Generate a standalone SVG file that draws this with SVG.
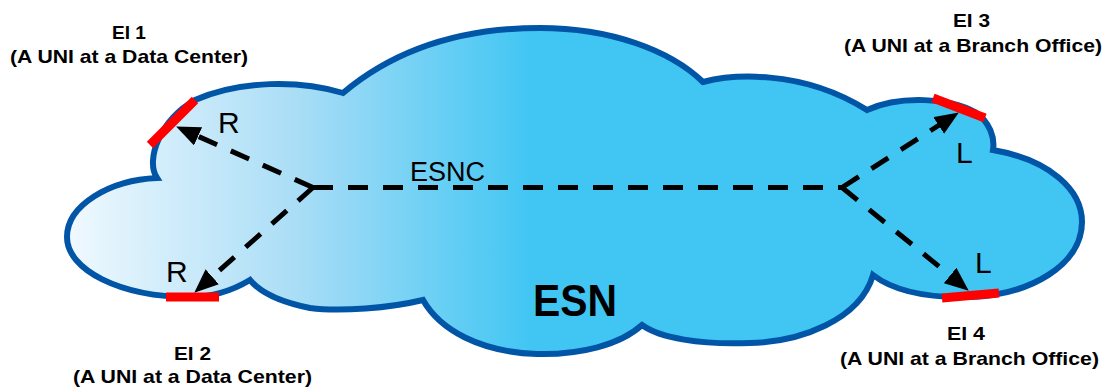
<svg xmlns="http://www.w3.org/2000/svg" width="1103" height="388" viewBox="0 0 1103 388">
  <style>
    .title { font-family: "Liberation Sans", Arial, sans-serif; font-weight: bold; font-size: 19px; fill: #000; text-anchor: middle; }
    .tag { font-family: "Liberation Sans", Arial, sans-serif; font-size: 30px; fill: #000; }
    .conn { fill: none; stroke: #000; stroke-width: 5; stroke-dasharray: 20 15; }
    .uni { stroke: #ff0000; stroke-width: 9; stroke-linecap: butt; fill: none; }
  </style>
  <defs>
    <linearGradient id="cloudFill" gradientUnits="userSpaceOnUse" x1="67" y1="0" x2="530" y2="0">
      <stop offset="0" stop-color="#f0f9fe"/>
      <stop offset="0.5" stop-color="#a9ddf6"/>
      <stop offset="1" stop-color="#41c6f3"/>
    </linearGradient>
    <marker id="arrow" markerUnits="userSpaceOnUse" markerWidth="24" markerHeight="20" viewBox="0 0 24 20" refX="13" refY="10" orient="auto">
      <path d="M0,0 L24,10 L0,20 Z" fill="#000"/>
    </marker>
  </defs>

  <g id="esn-cloud">
    <path d="M 343,93 C 400,45 470,28 540,28 C 610,28 670,50 703,82 C 730,75 800,68 867,110 C 900,95 950,98 975,112 C 990,122 995,138 993,150 C 1050,160 1082,190 1082,222 C 1082,265 1030,295 970,297 C 930,298 895,292 873,275 C 860,320 800,342 750,343 C 700,345 660,338 642,325 C 620,345 580,355 537,354 C 480,352 440,330 423,300 C 390,308 340,312 310,308 C 280,302 260,292 250,280 C 230,292 210,297 190,297 C 120,297 67,270 67,237 C 67,205 110,180 157,178 C 145,160 160,120 195,100 C 240,80 300,80 343,93 Z" fill="url(#cloudFill)" stroke="#0055a6" stroke-width="6" stroke-linejoin="miter"/>
    <text x="575" y="316" font-family="Liberation Sans, Arial, sans-serif" font-weight="bold" font-size="44" textLength="84" lengthAdjust="spacingAndGlyphs" text-anchor="middle">ESN</text>
  </g>

  <g id="connectors">
    <path class="conn" d="M 313,187.5 L 842,187.5"/>
    <path class="conn" d="M 313,187.5 L 186.2,131" marker-end="url(#arrow)"/>
    <path class="conn" d="M 313,187.5 L 202.5,285.4" marker-end="url(#arrow)"/>
    <path class="conn" d="M 842,187.5 L 949.6,118.4" marker-end="url(#arrow)"/>
    <path class="conn" d="M 842,187.5 L 960.2,283.7" marker-end="url(#arrow)"/>
    <text x="410" y="181" font-family="Liberation Sans, Arial, sans-serif" font-size="27">ESNC</text>
  </g>

  <g id="ei1">
    <line class="uni" x1="150" y1="145" x2="195" y2="100"/>
    <text class="tag" x="218" y="133">R</text>
    <text class="title" x="129" y="39" textLength="34" lengthAdjust="spacingAndGlyphs">EI 1</text>
    <text class="title" x="129" y="63" textLength="238" lengthAdjust="spacingAndGlyphs">(A UNI at a Data Center)</text>
  </g>

  <g id="ei2">
    <line class="uni" x1="166" y1="297" x2="219" y2="297"/>
    <text class="tag" x="166" y="282">R</text>
    <text class="title" x="192.5" y="360" textLength="37" lengthAdjust="spacingAndGlyphs">EI 2</text>
    <text class="title" x="192.5" y="383" textLength="239" lengthAdjust="spacingAndGlyphs">(A UNI at a Data Center)</text>
  </g>

  <g id="ei3">
    <line class="uni" x1="933" y1="98" x2="985" y2="118"/>
    <text class="tag" x="956" y="163">L</text>
    <text class="title" x="971.5" y="27" textLength="37" lengthAdjust="spacingAndGlyphs">EI 3</text>
    <text class="title" x="973" y="52" textLength="258" lengthAdjust="spacingAndGlyphs">(A UNI at a Branch Office)</text>
  </g>

  <g id="ei4">
    <line class="uni" x1="942" y1="298" x2="999" y2="293"/>
    <text class="tag" x="975" y="273">L</text>
    <text class="title" x="966" y="340" textLength="38" lengthAdjust="spacingAndGlyphs">EI 4</text>
    <text class="title" x="969.5" y="365" textLength="259" lengthAdjust="spacingAndGlyphs">(A UNI at a Branch Office)</text>
  </g>
</svg>
